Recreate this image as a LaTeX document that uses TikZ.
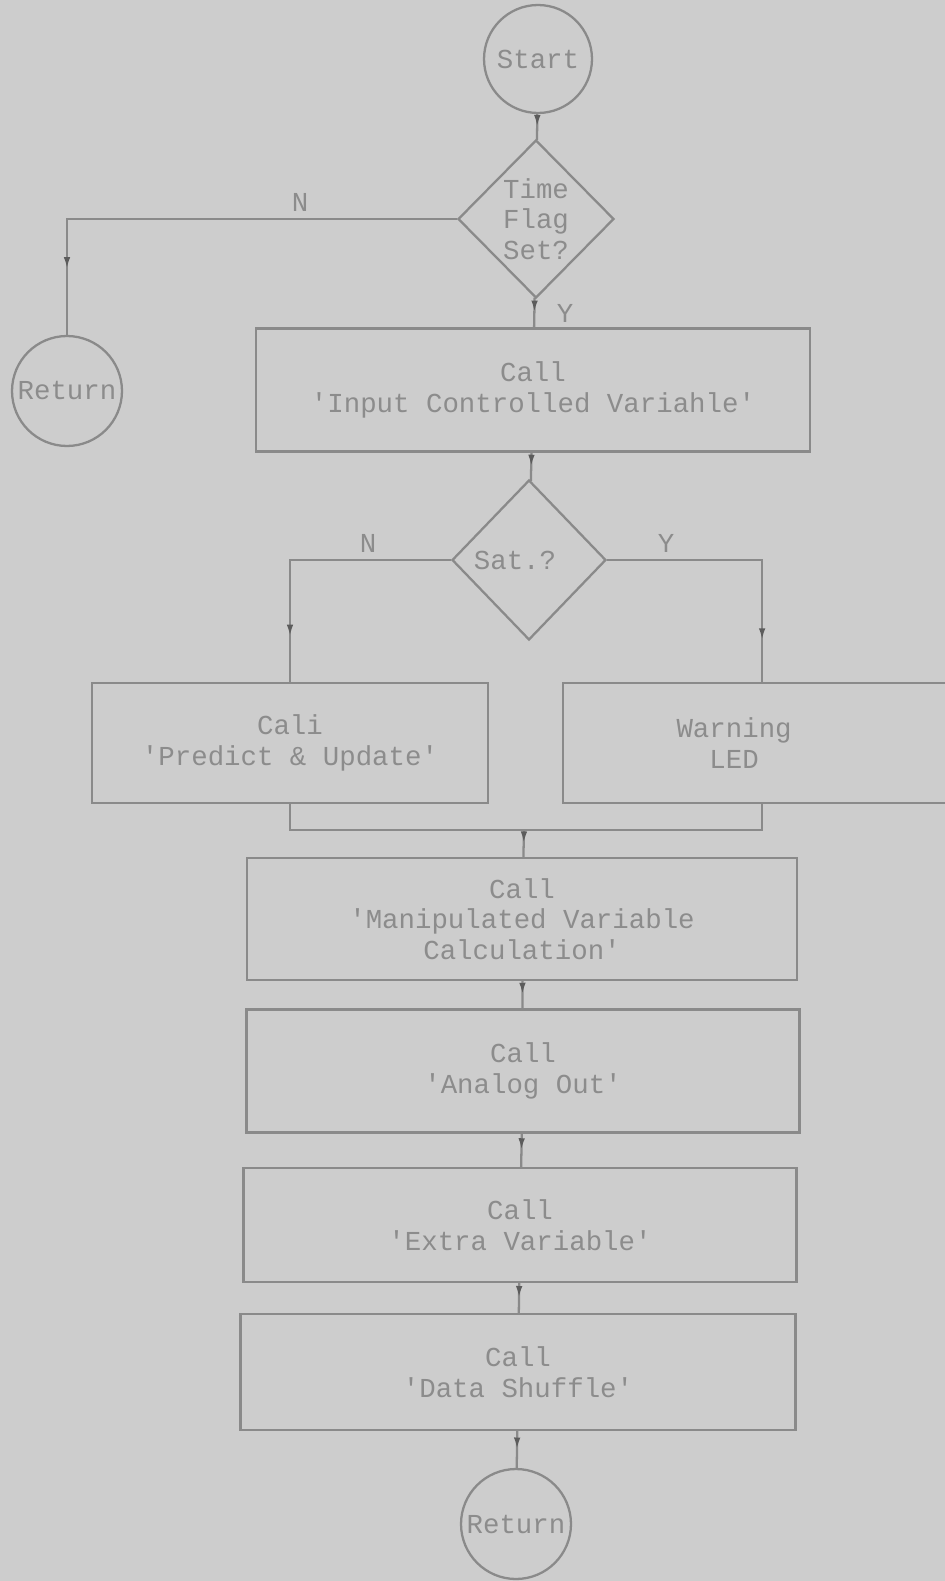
\documentclass[tikz,border=0pt]{standalone}
\usepackage{fontspec}
\setmonofont{Liberation Mono}
\usetikzlibrary{arrows.meta,shapes.geometric,decorations.markings}
\definecolor{scanbg}{HTML}{CDCDCD}
\definecolor{scanline}{HTML}{8A8A8A}
\definecolor{scantext}{HTML}{8C8C8C}
\definecolor{scantip}{HTML}{5C5C5C}
\tikzset{
  font=\ttfamily\fontsize{15.6}{17.5}\selectfont,
  box/.style={draw=scanline,line width=1.3pt,rectangle,inner sep=0pt,
              text=scantext,align=center},
  term/.style={draw=scanline,line width=1.3pt,circle,inner sep=0pt,
               text=scantext,minimum size=#1},
  decision/.style={draw=scanline,line width=1.3pt,diamond,inner sep=0pt,
                   text=scantext,align=center},
  flow/.style={draw=scanline,line width=1.3pt,postaction={decorate},
               decoration={markings,mark=at position #1 with
                 {\arrow{Latex[length=2.4mm,width=1.3mm,color=scantip]}}}},
  flow/.default=0.5,
  line/.style={draw=scanline,line width=1.3pt},
  branch/.style={text=scantext,inner sep=0pt},
}

\begin{document}
\begin{tikzpicture}[x=0.02cm,y=-0.02cm]
  \fill[scanbg] (0,0) rectangle (945,1581);
  \useasboundingbox (0,0) rectangle (945,1581);

  \node[term=2.16cm] (start) at (538,59) {Start};
  \node[decision,minimum width=3.12cm,minimum height=3.16cm] (tflag) at (536,219)
    {Time\\Flag\\Set?};
  \node[term=2.2cm] (ret1) at (67,391) {Return};
  \node[box,minimum width=11.08cm,minimum height=2.46cm] (input) at (533,390)
    {Call\\'Input Controlled Variahle'};
  \node[decision,minimum width=3.08cm,minimum height=3.2cm] (sat) at (529,560)
    {Sat.?\kern0.56cm};
  \node[box,minimum width=7.92cm,minimum height=2.4cm] (predict) at (290,743)
    {Cali\\'Predict \& Update'};
  \node[box,minimum width=7.96cm,minimum height=2.4cm,anchor=west] (warn) at (562,743)
    {Warning\kern1.12cm\\LED\kern1.12cm};
  \coordinate (join) at (524,830);
  \node[box,minimum width=11.0cm,minimum height=2.44cm] (manip) at (522,919)
    {Call\\'Manipulated Variable\\Calculation'};
  \node[box,minimum width=11.06cm,minimum height=2.46cm] (analog) at (523,1071)
    {Call\\'Analog Out'};
  \node[box,minimum width=11.06cm,minimum height=2.28cm] (extra) at (520,1225)
    {Call\\'Extra Variable'};
  \node[box,minimum width=11.1cm,minimum height=2.32cm] (shuffle) at (518,1372)
    {Call\\'Data Shuffle'};
  \node[term=2.2cm] (ret2) at (516,1524) {Return};

  % branch labels
  \node[branch] (n1) at (300,202) {N};
  \node[branch] (y1) at (565,313) {Y};
  \node[branch] (n2) at (368,543) {N};
  \node[branch] (y2) at (666,543) {Y};

  \draw[flow] (start) -- (tflag);
  \draw[flow=0.87] (tflag.west) -| (ret1.north);
  \draw[flow] (tflag) -- (input);
  \draw[flow] (input) -- (sat);
  \draw[flow=0.84] (sat.west) -| (predict.north);
  \draw[flow=0.85] (sat.east) -| (warn.north);
  \draw[line] (predict.south) |- (join) -| (warn.south);
  \draw[flow] (join) -- (manip);
  \draw[flow] (manip) -- (analog);
  \draw[flow] (analog) -- (extra);
  \draw[flow] (extra) -- (shuffle);
  \draw[flow] (shuffle) -- (ret2);
\end{tikzpicture}
\end{document}
